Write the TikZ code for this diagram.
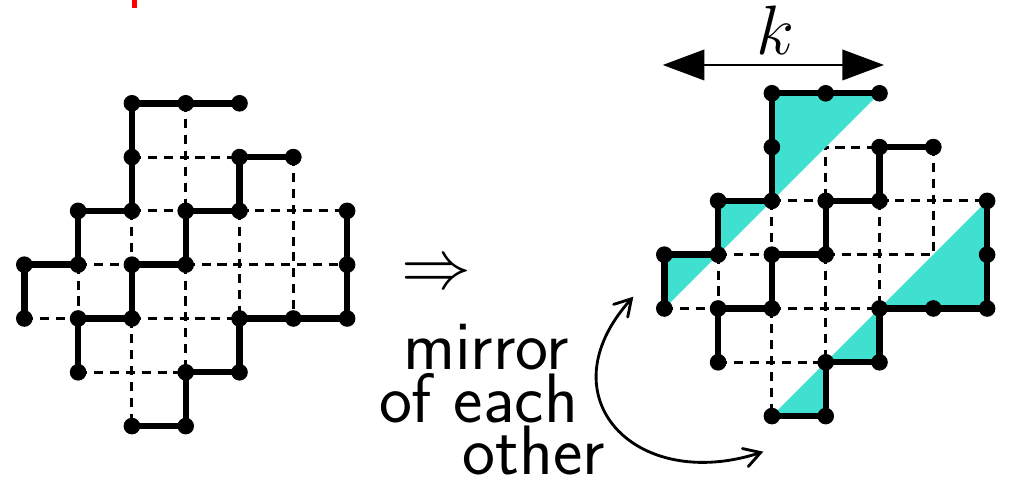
\RequirePackage{fix-cm}
\documentclass[tikz,border=0pt]{standalone}
\usepackage{tikz}
\usetikzlibrary{arrows.meta,positioning,calc}
\definecolor{mirrorcyan}{RGB}{64,224,208}

\begin{document}
\begin{tikzpicture}[
    walk/.style={line width=3.4pt, line join=round, line cap=round},
    gridedge/.style={line width=1.6pt, dash pattern=on 4.8pt off 3.6pt},
    bigtxt/.style={font=\fontsize{37}{44}\selectfont\sffamily, inner sep=0pt, anchor=base},
    bigsym/.style={font=\fontsize{37}{44}\selectfont, inner sep=0pt},
]
    \useasboundingbox (-0.452,-7.113) rectangle (18.34,1.92);
    % 上方残留的红色
    \fill[red] (1.996,1.762) rectangle (2.089,1.95);

    % 格点: a 左图, b 右图
    \foreach \p/\dx/\dy in {a/0/0, b/11.896/0.186}
        \foreach \c in {0,...,6}
            \foreach \r in {0,...,6}
                \coordinate (\p-\c-\r) at (\c+\dx,\dy-\r);

    % 虚线格子
    \foreach \p in {a,b}
        \draw[gridedge] (\p-2-1) -- (\p-4-1) (\p-2-2) -- (\p-3-2) (\p-4-2) -- (\p-6-2)
            (\p-1-3) -- (\p-2-3) (\p-3-3) -- (\p-6-3) (\p-0-4) -- (\p-1-4) (\p-2-4) -- (\p-4-4)
            (\p-1-5) -- (\p-3-5)
            (\p-1-3) -- (\p-1-4) (\p-2-2) -- (\p-2-3) (\p-2-4) -- (\p-2-6) (\p-3-0) -- (\p-3-2)
            (\p-3-3) -- (\p-3-5) (\p-4-2) -- (\p-4-4) (\p-5-1) -- (\p-5-4);

    % 镜像三角形
    \fill[mirrorcyan] (b-4-0) -- (b-2-0) -- (b-2-2) -- (b-1-2) -- (b-1-3) -- (b-0-3) -- (b-0-4) -- cycle;
    \fill[mirrorcyan] (b-6-2) -- (b-6-4) -- (b-4-4) -- (b-4-5) -- (b-3-5) -- (b-3-6) -- (b-2-6) -- cycle;

    % 三条路径和点
    \foreach \p in {a,b} {
        \draw[walk] (\p-4-0) -- (\p-2-0) -- (\p-2-2) -- (\p-1-2) -- (\p-1-3) -- (\p-0-3) -- (\p-0-4);
        \draw[walk] (\p-5-1) -- (\p-4-1) -- (\p-4-2) -- (\p-3-2) -- (\p-3-3) -- (\p-2-3) -- (\p-2-4) -- (\p-1-4) -- (\p-1-5);
        \draw[walk] (\p-6-2) -- (\p-6-4) -- (\p-4-4) -- (\p-4-5) -- (\p-3-5) -- (\p-3-6) -- (\p-2-6);
        \foreach \v in {4-0,3-0,2-0,2-1,2-2,1-2,1-3,0-3,0-4,5-1,4-1,4-2,3-2,3-3,2-3,2-4,1-4,1-5,6-2,6-3,6-4,5-4,4-4,4-5,3-5,3-6,2-6}
            \fill (\p-\v) circle (4.4pt);
    }

    % 宽度 k
    \coordinate (kl) at ($(b-0-0)+(-0.03,0.526)$);
    \coordinate (kr) at ($(b-4-0)+(0.084,0.526)$);
    \draw[line width=1.5pt, {Triangle[length=22pt,width=16pt]}-{Triangle[length=22pt,width=16pt]}]
        (kl) -- node[bigsym, above=5pt, xshift=1pt] (klab) {$k$} (kr);

    % 箭头与文字
    \node[bigsym] (impl) at (7.652,-3.21) {$\Rightarrow$};
    \node[bigtxt] (txtA) at (8.582,-4.957) {mirror};
    \node[bigtxt] (txtB) at (8.442,-5.942) {of each};
    \node[bigtxt] (txtC) at (9.474,-6.909) {other};
    \coordinate (tA) at (11.32,-3.595);
    \coordinate (tB) at (13.736,-6.476);
    \draw[line width=1.5pt, {Straight Barb[length=8.5pt,width=10pt,line cap=round]}-{Straight Barb[length=8.5pt,width=10pt,line cap=round]}]
        (tA) to[out=228, in=198, looseness=1.7] (tB);
\end{tikzpicture}
\end{document}
